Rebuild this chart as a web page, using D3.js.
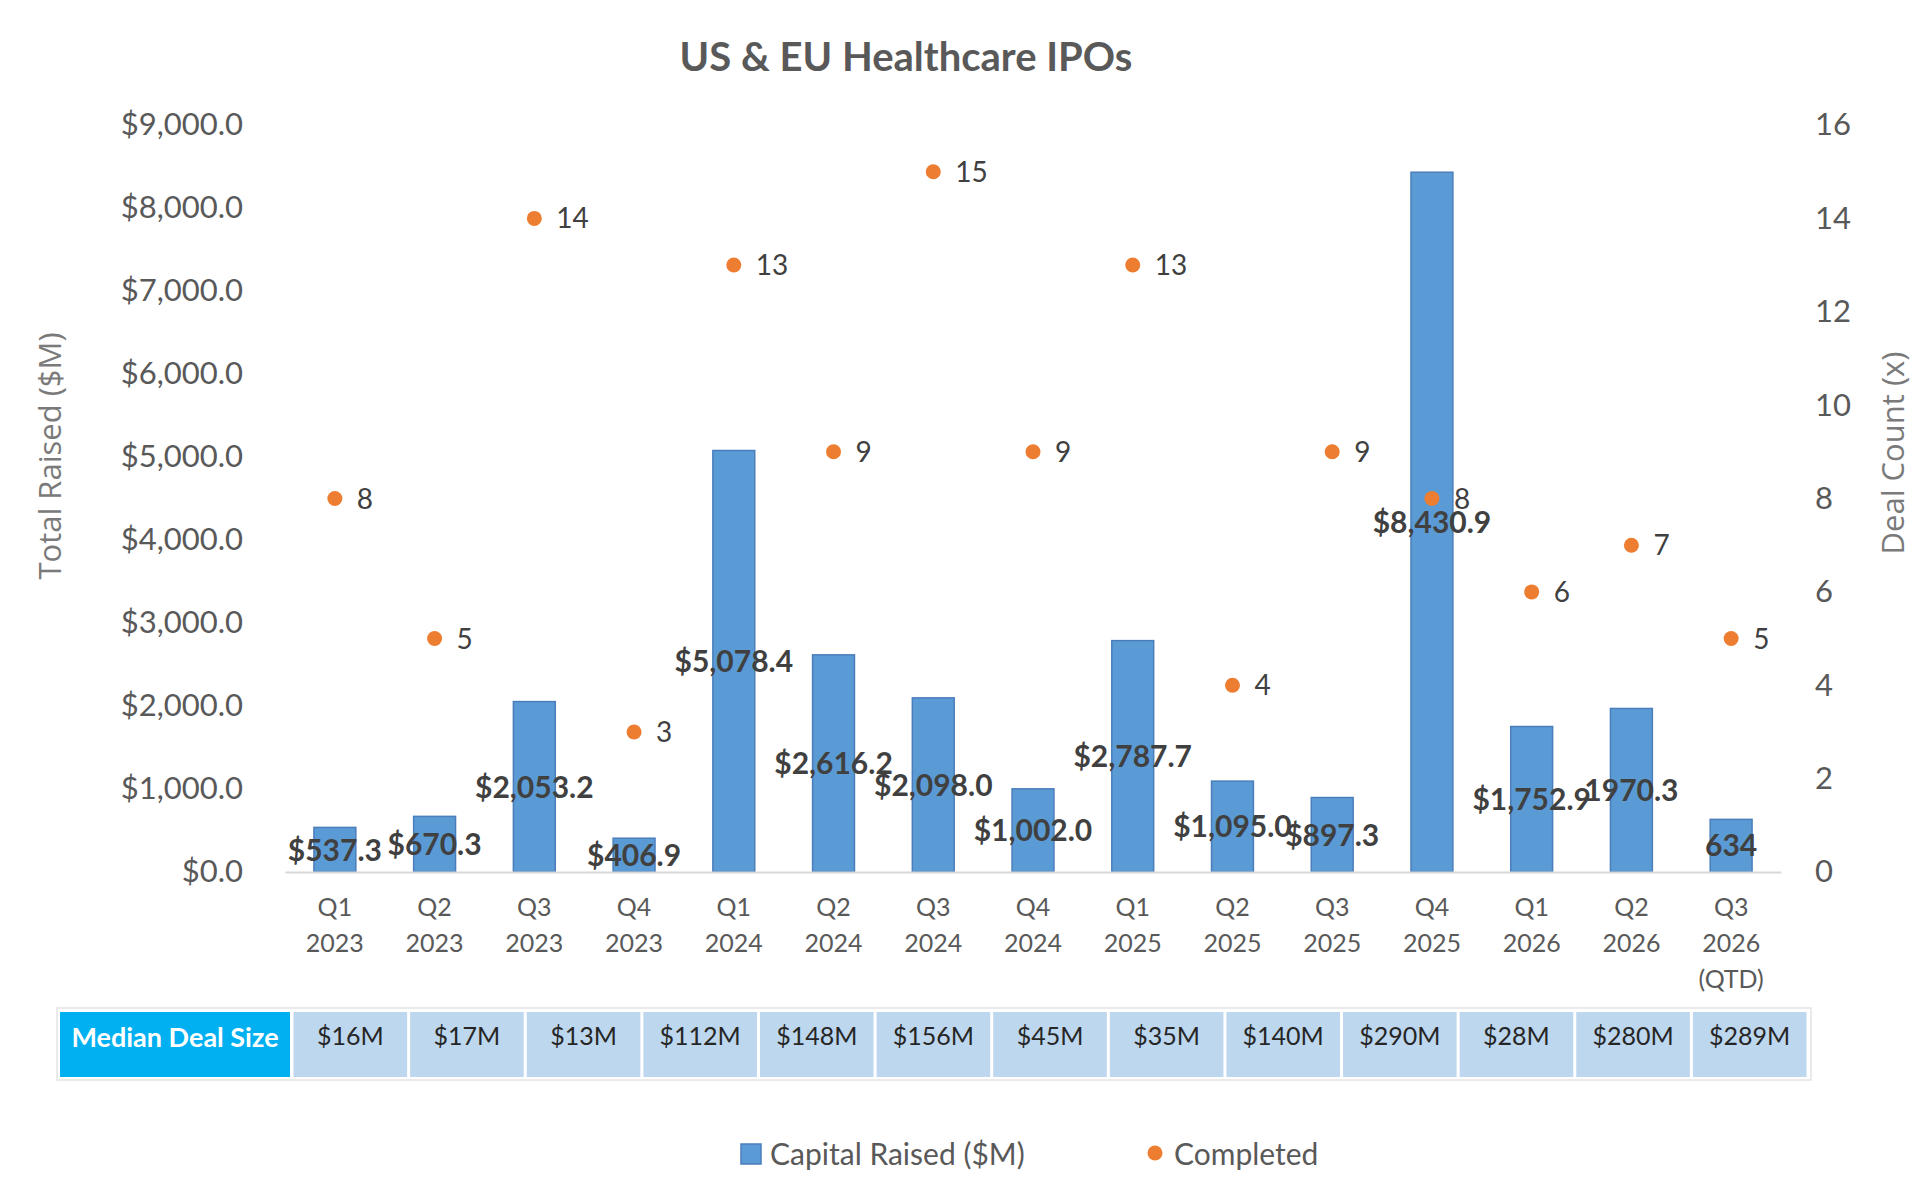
<!DOCTYPE html>
<html>
<head>
<meta charset="utf-8">
<script src="https://cdn.jsdelivr.net/npm/d3@7"></script>
<style>
  body { margin: 0; background: #ffffff; }
  svg { display: block; font-family: "Lato", "Open Sans", sans-serif; }
</style>
</head>
<body>
<svg id="chart" width="1930" height="1196"></svg>
<script>
// ---- data ----
const quarters = ["Q1 2023", "Q2 2023", "Q3 2023", "Q4 2023", "Q1 2024", "Q2 2024", "Q3 2024", "Q4 2024",
                  "Q1 2025", "Q2 2025", "Q3 2025", "Q4 2025", "Q1 2026", "Q2 2026", "Q3 2026 (QTD)"]
const capitalRaised = [537.3, 670.3, 2053.2, 406.9, 5078.4, 2616.2, 2098.0, 1002.0, 2787.7, 1095.0, 897.3, 8430.9, 1752.9, 1970.3, 634]
const capitalLabels = ["$537.3", "$670.3", "$2,053.2", "$406.9", "$5,078.4", "$2,616.2", "$2,098.0", "$1,002.0",
                       "$2,787.7", "$1,095.0", "$897.3", "$8,430.9", "$1,752.9", "1970.3", "634"]
const dealCount = [8, 5, 14, 3, 13, 9, 15, 9, 13, 4, 9, 8, 6, 7, 5]
const leftTicks = [0, 1000, 2000, 3000, 4000, 5000, 6000, 7000, 8000, 9000]
const rightTicks = [0, 2, 4, 6, 8, 10, 12, 14, 16]
const medianDealSize = ["$16M", "$17M", "$13M", "$112M", "$148M", "$156M", "$45M", "$35M", "$140M", "$290M", "$28M", "$280M", "$289M"]

const svg = d3.select("#chart")

// plot area
const plot = { left: 285, right: 1781, top: 125, bottom: 872 }

// scales
const xScale = d3.scaleBand()
    .domain(quarters)
    .range([plot.left, plot.right])
    .paddingInner(0.58)
    .paddingOuter(0.29)

const yLeft = d3.scaleLinear()
    .domain([0, 9000])
    .range([plot.bottom, plot.top])

const yRight = d3.scaleLinear()
    .domain([0, 16])
    .range([plot.bottom, plot.top])

// title
svg.append("text")
    .attr("x", 906)
    .attr("y", 71)
    .attr("text-anchor", "middle")
    .attr("font-size", 40)
    .attr("font-weight", "bold")
    .attr("fill", "#595959")
    .text("US & EU Healthcare IPOs")

// left axis
const leftAxis = svg.append("g")
    .attr("transform", `translate(${plot.left - 42},0)`)
    .call(d3.axisLeft(yLeft).tickValues(leftTicks).tickSize(0).tickPadding(0)
        .tickFormat(d => "$" + d3.format(",.1f")(d)))
leftAxis.select(".domain").remove()
leftAxis.selectAll("text")
    .attr("font-family", "Lato, sans-serif")
    .attr("font-size", 31)
    .attr("fill", "#595959")

// right axis
const rightAxis = svg.append("g")
    .attr("transform", `translate(${plot.right + 34},0)`)
    .call(d3.axisRight(yRight).tickValues(rightTicks).tickSize(0).tickPadding(0))
rightAxis.select(".domain").remove()
rightAxis.selectAll("text")
    .attr("font-family", "Lato, sans-serif")
    .attr("font-size", 31)
    .attr("fill", "#595959")

// axis titles
svg.append("text")
    .attr("transform", "translate(61,456) rotate(-90)")
    .attr("text-anchor", "middle")
    .attr("font-family", "Open Sans, sans-serif")
    .attr("font-size", 31)
    .attr("fill", "#7a7a7a")
    .text("Total Raised ($M)")

svg.append("text")
    .attr("transform", "translate(1904,453) rotate(-90)")
    .attr("text-anchor", "middle")
    .attr("font-family", "Open Sans, sans-serif")
    .attr("font-size", 31)
    .attr("fill", "#7a7a7a")
    .text("Deal Count (x)")

// bars
svg.append("g")
    .selectAll("rect")
    .data(quarters)
    .enter()
    .append("rect")
        .attr("x", d => xScale(d))
        .attr("y", (d, i) => yLeft(capitalRaised[i]))
        .attr("width", xScale.bandwidth())
        .attr("height", (d, i) => yLeft(0) - yLeft(capitalRaised[i]))
        .attr("fill", "#5b9bd5")
        .attr("stroke", "#4a7ebb")
        .attr("stroke-width", 1.5)

// x axis (baseline + multiline labels)
const xAxis = svg.append("g")
    .attr("transform", `translate(0,${plot.bottom})`)
    .call(d3.axisBottom(xScale).tickSize(0).tickFormat(""))
xAxis.select(".domain")
    .attr("stroke", "#d9d9d9")
    .attr("stroke-width", 2)

xAxis.selectAll(".tick text").remove()
xAxis.selectAll(".tick")
    .append("text")
    .attr("text-anchor", "middle")
    .attr("font-family", "Lato, sans-serif")
    .attr("font-size", 25)
    .attr("fill", "#595959")
    .each(function(d) {
        const lines = d.split(" ")
        d3.select(this).selectAll("tspan")
            .data(lines)
            .enter()
            .append("tspan")
                .attr("x", 0)
                .attr("y", (l, j) => 44 + j * 36)
                .text(l => l)
    })

// bar value labels, centred inside the bar
svg.append("g")
    .selectAll("text")
    .data(quarters)
    .enter()
    .append("text")
        .attr("x", d => xScale(d) + xScale.bandwidth() / 2)
        .attr("y", (d, i) => yLeft(capitalRaised[i] / 2))
        .attr("dy", "0.36em")
        .attr("text-anchor", "middle")
        .attr("font-size", 30)
        .attr("font-weight", "bold")
        .attr("fill", "#404040")
        .text((d, i) => capitalLabels[i])

// deal count dots
svg.append("g")
    .selectAll("circle")
    .data(quarters)
    .enter()
    .append("circle")
        .attr("cx", d => xScale(d) + xScale.bandwidth() / 2)
        .attr("cy", (d, i) => yRight(dealCount[i]))
        .attr("r", 7.5)
        .attr("fill", "#ed7d31")

svg.append("g")
    .selectAll("text")
    .data(quarters)
    .enter()
    .append("text")
        .attr("x", d => xScale(d) + xScale.bandwidth() / 2 + 22)
        .attr("y", (d, i) => yRight(dealCount[i]))
        .attr("dy", "0.36em")
        .attr("font-size", 28)
        .attr("fill", "#404040")
        .text((d, i) => dealCount[i])

// median deal size table
const tableTop = 1012
const tableBottom = 1077
const tableScale = d3.scaleBand()
    .domain(d3.range(medianDealSize.length))
    .range([292, 1808])

const table = svg.append("g")

table.append("rect")
    .attr("x", 57)
    .attr("y", tableTop - 4)
    .attr("width", 1808 - 57 + 3)
    .attr("height", tableBottom - tableTop + 7)
    .attr("fill", "#ffffff")
    .attr("stroke", "#e4e4e4")
    .attr("stroke-width", 1.5)

table.append("rect")
    .attr("x", 60)
    .attr("y", tableTop)
    .attr("width", 230)
    .attr("height", tableBottom - tableTop)
    .attr("fill", "#00b0f0")

table.append("text")
    .attr("x", 175)
    .attr("y", 1037)
    .attr("dy", "0.36em")
    .attr("text-anchor", "middle")
    .attr("font-size", 27)
    .attr("font-weight", "bold")
    .attr("fill", "#ffffff")
    .text("Median Deal Size")

table.selectAll(".cell")
    .data(medianDealSize)
    .enter()
    .append("rect")
        .attr("class", "cell")
        .attr("x", (d, i) => tableScale(i) + 1.5)
        .attr("y", tableTop)
        .attr("width", tableScale.bandwidth() - 3)
        .attr("height", tableBottom - tableTop)
        .attr("fill", "#bdd7ee")

table.selectAll(".cellText")
    .data(medianDealSize)
    .enter()
    .append("text")
        .attr("class", "cellText")
        .attr("x", (d, i) => tableScale(i) + tableScale.bandwidth() / 2)
        .attr("y", 1036)
        .attr("dy", "0.36em")
        .attr("text-anchor", "middle")
        .attr("font-size", 25)
        .attr("fill", "#262626")
        .text(d => d)

// legend
const legend = svg.append("g")
legend.append("rect")
    .attr("x", 741)
    .attr("y", 1144)
    .attr("width", 20)
    .attr("height", 20)
    .attr("fill", "#5b9bd5")
    .attr("stroke", "#4a7ebb")
    .attr("stroke-width", 1.5)
legend.append("text")
    .attr("x", 770)
    .attr("y", 1154)
    .attr("dy", "0.36em")
    .attr("font-size", 30)
    .attr("fill", "#595959")
    .text("Capital Raised ($M)")
legend.append("circle")
    .attr("cx", 1155)
    .attr("cy", 1153)
    .attr("r", 7.5)
    .attr("fill", "#ed7d31")
legend.append("text")
    .attr("x", 1174)
    .attr("y", 1154)
    .attr("dy", "0.36em")
    .attr("font-size", 30)
    .attr("fill", "#595959")
    .text("Completed")
</script>
</body>
</html>
